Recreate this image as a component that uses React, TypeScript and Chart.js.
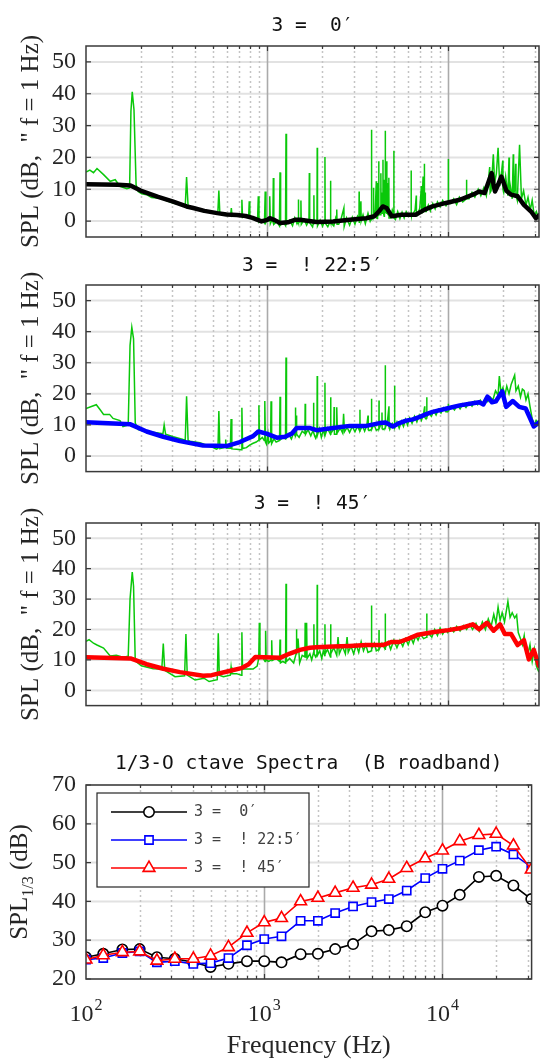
import React, { useEffect, useRef } from 'react';
import { Chart, registerables } from 'chart.js';
import { drawPoint } from 'chart.js/helpers';

Chart.register(...registerables);

const SERIF = '"Liberation Serif", "Times New Roman", serif';
const MONO = '"DejaVu Sans Mono", monospace';
const INK = '#262626';
const GREEN = 'rgb(10,200,10)';

type Pt = [number, number];

// ---- frequency axis ----
const freqMin = 100;
const freqMax = 31623;
const minorFreqs = [200, 300, 400, 500, 600, 700, 800, 900, 2000, 3000, 4000, 5000, 6000, 7000, 8000, 9000, 20000, 30000];
const decadeFreqs = [1000, 10000];
const decadeLabels = [100, 1000, 10000];

// ---- level ticks ----
const spectrumTicks = [0, 10, 20, 30, 40, 50];
const bandTicks = [20, 30, 40, 50, 60, 70];

// ---- titles / labels ----
const titles = ['3 =  0\u2032', '3 =  ! 22:5\u2032', '3 =  ! 45\u2032', '1/3-O ctave Spectra  (B roadband)'];
const spectrumLabel = 'SPL (dB,  " f = 1 Hz)';
const bandLabelMain = 'SPL';
const bandLabelSub = '1/3';
const bandLabelTail = ' (dB)';
const freqLabel = 'Frequency (Hz)';

// ---- narrowband spectrum, 0 deg ----
const narrow0: Pt[] = [
  [100, 15.4], [105, 16.0], [110, 15.2], [115, 16.5], [125, 14.6], [136, 12.5], [145, 13.0], [154, 10.9], [168, 10.2],
  [174, 10.4], [177, 34.5], [180, 40.6], [184, 35.0], [189, 11.4], [194, 9.3], [203, 8.6], [216, 8.3], [230, 7.4],
  [256, 7.2], [279, 6.4], [303, 5.7], [330, 5.1], [353, 4.8], [359, 13.8], [366, 4.6], [391, 4.1], [443, 3.0],
  [494, 2.8], [534, 2.6], [541, 9.6], [548, 2.2], [596, 2.2], [629, 2.0], [634, 4.1], [640, 1.5], [677, 1.8],
  [719, 1.7], [725, 6.7], [731, 1.2], [756, 1.8], [790, 1.6], [796, 6.2], [802, 1.0], [835, 1.2], [868, 0.2],
  [885, 0.6], [893, 7.8], [901, -0.3], [935, 0.5], [966, -0.6], [975, 9.3], [984, -0.4], [1010, 0.8], [1025, 0.0],
  [1033, 7.8], [1041, -0.8], [1065, 0.5], [1075, -0.2], [1081, 13.5], [1088, -1.0], [1130, -0.2], [1168, -1.5],
  [1177, 15.3], [1186, -1.2], [1230, -0.3], [1262, -1.4], [1270, 27.4], [1278, -1.0], [1330, 0.2], [1380, -1.5],
  [1420, 1.0], [1460, -0.8], [1480, 0.0], [1485, 6.8], [1492, -0.5], [1530, 0.0], [1535, 6.5], [1542, -1.0],
  [1600, 0.5], [1650, -1.3], [1700, 0.2], [1708, 15.1], [1716, -0.5], [1780, -1.8], [1805, 0.0], [1810, 8.1],
  [1816, -0.8], [1882, 0.0], [1888, 23.0], [1895, -1.5], [1960, 0.3], [2020, -1.6], [2076, 0.0], [2083, 20.1],
  [2090, -0.6], [2160, -1.8], [2230, 0.0], [2236, 12.7], [2243, -0.4], [2330, -1.5], [2400, 1.5], [2420, 3.6],
  [2430, -1.0], [2480, -1.0], [2560, 0.8], [2650, 4.1], [2660, -1.7], [2740, 1.0], [2850, -1.3], [2950, 1.2],
  [3050, -1.0], [3150, 1.5], [3210, 0.5], [3216, 9.3], [3222, -0.6], [3290, 6.2], [3300, 0.0], [3380, 2.0],
  [3480, -0.8], [3600, 2.5], [3700, 0.0], [3758, 1.0], [3765, 28.7], [3772, 0.5], [3855, 1.0], [3862, 10.5],
  [3870, 1.5], [3950, 3.5], [4000, 12.5], [4010, 1.0], [4050, 0.8], [4060, 12.0], [4070, 1.5], [4120, 2.0],
  [4127, 18.8], [4134, 2.0], [4200, 2.0], [4240, 15.0], [4250, 2.5], [4290, 9.0], [4300, 3.0], [4348, 2.5],
  [4355, 19.3], [4362, 3.0], [4420, 1.5], [4430, 13.0], [4440, 2.0], [4477, 3.5], [4484, 28.4], [4491, 3.0],
  [4560, 2.5], [4570, 18.8], [4580, 3.0], [4600, 10.0], [4620, 2.0], [4640, 12.0], [4660, 2.0], [4688, 2.0],
  [4695, 13.6], [4702, 1.0], [4800, 1.0], [4900, 3.5], [4993, 2.0], [5000, 22.1], [5007, 1.0], [5100, 0.5],
  [5250, 3.0], [5400, 0.8], [5550, 2.8], [5700, 1.0], [5850, 3.0], [6050, 1.5], [6222, 2.0], [6230, 15.9],
  [6238, 1.8], [6350, 2.0], [6550, 3.5], [6650, 8.0], [6660, 2.0], [6750, 1.8], [6950, 4.0], [7100, 11.0],
  [7110, 2.5], [7150, 2.5], [7250, 14.0], [7260, 3.0], [7362, 3.5], [7370, 18.0], [7378, 3.0], [7450, 9.0],
  [7460, 3.0], [7550, 3.0], [7750, 5.0], [7950, 3.2], [8200, 5.5], [8450, 3.8], [8700, 6.0], [9000, 4.5],
  [9300, 6.5], [9700, 4.8], [9990, 6.0], [9997, 19.5], [10005, 5.5], [10300, 5.5], [10700, 7.0], [11100, 5.2],
  [11500, 7.5], [12000, 6.0], [12590, 7.0], [12600, 13.0], [12610, 7.0], [13000, 7.0], [13500, 9.0], [14000, 7.5],
  [14600, 10.0], [15100, 8.0], [15700, 10.5], [16200, 8.0], [16700, 14.0], [16900, 17.0], [17000, 9.0],
  [17200, 9.5], [17700, 21.0], [18000, 12.0], [18400, 15.0], [18800, 23.0], [19200, 11.0], [19700, 16.0],
  [19950, 19.0], [20000, 10.0], [20200, 9.0], [20700, 14.0], [21300, 8.0], [21600, 20.0], [21700, 9.0],
  [21900, 11.5], [22500, 7.0], [22800, 21.0], [22900, 8.0], [23200, 10.0], [23500, 18.0], [23600, 8.0],
  [24000, 6.5], [24700, 24.0], [25300, 7.0], [26000, 9.5], [26800, 5.0], [27500, 7.5], [28300, 3.5], [29000, 6.5],
  [29800, 1.5], [30600, 3.0], [31600, 0.5],
];

const smooth0: Pt[] = [
  [100, 11.6], [150, 11.4], [176, 11.2], [200, 9.6], [250, 7.6], [300, 6.2], [359, 4.6], [391, 4.1], [450, 3.2],
  [530, 2.5], [596, 2.1], [680, 1.9], [760, 1.6], [830, 1.0], [930, -0.1], [1000, 0.4], [1033, 0.9], [1100, 0.3],
  [1177, -0.6], [1300, -0.4], [1420, 0.4], [1517, 0.4], [1700, 0.0], [1872, -0.3], [2311, -0.1], [2853, 0.4],
  [3521, 0.9], [3900, 1.5], [4130, 3.0], [4347, 4.6], [4560, 4.1], [4750, 2.5], [4870, 1.5], [5500, 2.0],
  [6600, 2.0], [7400, 3.6], [8176, 4.6], [9700, 5.7], [11560, 6.7], [13640, 8.3], [14800, 9.3], [15840, 8.8],
  [16700, 12.5], [17330, 15.1], [17800, 11.0], [18080, 9.3], [18800, 11.4], [19600, 14.0], [20900, 9.5],
  [22200, 8.3], [24100, 7.8], [26100, 5.1], [28600, 3.0], [30400, 0.9], [31600, 1.8],
];

// ---- narrowband spectrum, -22.5 deg ----
const narrow225: Pt[] = [
  [100, 15.3], [108, 16.0], [114, 16.5], [120, 14.8], [125, 13.4], [135, 13.4], [141, 12.1], [154, 11.4], [160, 9.5],
  [171, 10.0], [175, 35.6], [179, 41.4], [183, 37.7], [187, 10.6], [194, 8.5], [216, 7.9], [240, 7.6], [266, 7.2],
  [270, 10.0], [275, 7.0], [303, 6.2], [344, 5.3], [353, 5.2], [359, 19.2], [366, 5.0], [375, 4.8], [425, 4.3],
  [483, 3.2], [525, 2.2], [535, 2.5], [541, 14.5], [548, 2.4], [573, 2.7], [586, 2.8], [590, 5.3], [595, 2.6],
  [626, 2.5], [632, 11.9], [638, 2.3], [677, 2.2], [718, 2.0], [725, 15.5], [732, 2.4], [768, 2.7], [800, 3.5],
  [836, 4.1], [870, 4.5], [893, 5.0], [900, 16.3], [907, 5.2], [940, 6.0], [963, 5.0], [970, 17.7], [978, 4.5],
  [991, 3.8], [1010, 7.0], [1020, 4.2], [1044, 4.8], [1050, 17.6], [1058, 4.0], [1090, 5.5], [1120, 4.5],
  [1170, 5.0], [1177, 19.1], [1185, 5.3], [1220, 6.0], [1262, 5.5], [1270, 31.7], [1278, 5.8], [1320, 6.8],
  [1360, 5.5], [1400, 7.5], [1425, 6.5], [1430, 15.6], [1438, 6.5], [1446, 7.0], [1450, 13.0], [1456, 7.0],
  [1500, 6.0], [1560, 8.0], [1615, 7.2], [1620, 16.8], [1628, 7.0], [1680, 8.5], [1740, 6.5], [1790, 8.2],
  [1800, 17.1], [1810, 7.5], [1850, 5.8], [1882, 7.0], [1888, 25.7], [1895, 6.8], [1940, 8.8], [1990, 6.0],
  [2040, 8.5], [2077, 6.5], [2083, 23.6], [2090, 6.8], [2150, 9.0], [2234, 7.0], [2240, 18.9], [2246, 7.2],
  [2330, 8.8], [2340, 15.8], [2350, 7.0], [2400, 7.0], [2420, 15.7], [2440, 7.5], [2530, 9.0], [2610, 7.4],
  [2640, 13.6], [2670, 7.8], [2760, 9.2], [2850, 7.6], [2950, 9.5], [3050, 7.8], [3150, 9.6], [3244, 8.0],
  [3250, 14.9], [3256, 8.2], [3350, 9.8], [3450, 8.0], [3550, 10.0], [3600, 13.0], [3610, 8.5], [3650, 8.2],
  [3758, 8.5], [3765, 18.4], [3772, 8.6], [3880, 10.2], [4000, 8.3], [4133, 8.7], [4140, 17.9], [4147, 8.8],
  [4260, 10.5], [4300, 14.0], [4310, 8.8], [4360, 8.5], [4477, 9.0], [4484, 29.2], [4491, 9.2], [4600, 10.8],
  [4700, 16.0], [4710, 9.0], [4750, 8.8], [4900, 10.5], [5043, 9.0], [5050, 22.6], [5057, 9.2], [5200, 11.0],
  [5350, 9.0], [5500, 11.2], [5650, 9.5], [5800, 11.8], [5950, 10.0], [6100, 12.2], [6300, 10.5], [6500, 12.8],
  [6700, 11.0], [6900, 13.2], [7100, 11.5], [7300, 13.8], [7400, 16.0], [7410, 12.5], [7500, 12.0], [7593, 12.2],
  [7600, 18.9], [7607, 12.5], [7800, 14.0], [8050, 12.8], [8300, 14.5], [8550, 13.2], [8800, 15.0], [9100, 13.8],
  [9400, 15.5], [9700, 14.2], [9990, 14.5], [9997, 16.8], [10004, 14.6], [10400, 16.0], [10800, 14.8],
  [11200, 16.3], [11600, 15.2], [12000, 16.8], [12500, 15.6], [13000, 17.2], [13500, 16.0], [14000, 17.6],
  [14500, 16.5], [15000, 18.0], [15500, 16.8], [16000, 18.5], [16500, 17.5], [17000, 19.0], [17600, 18.0],
  [18200, 21.0], [18800, 19.5], [19100, 25.7], [19500, 20.5], [20000, 22.0], [20500, 19.5], [21000, 22.5],
  [21600, 20.0], [22200, 23.0], [23210, 26.0], [23600, 21.0], [24300, 22.5], [25000, 19.0], [25600, 21.5],
  [26200, 21.0], [26800, 18.0], [27500, 20.0], [28200, 16.0], [29000, 12.0], [29800, 10.0], [30500, 11.5],
  [31600, 10.5],
];

const smooth225: Pt[] = [
  [100, 10.9], [176, 10.2], [216, 7.9], [267, 6.2], [330, 4.8], [443, 3.4], [596, 3.2], [707, 4.5], [836, 6.4],
  [893, 7.9], [991, 7.2], [1130, 5.9], [1254, 6.2], [1365, 7.2], [1453, 9.0], [1723, 9.0], [1872, 8.3],
  [2311, 9.0], [2853, 9.7], [3521, 9.7], [4170, 10.6], [4500, 10.8], [4935, 9.5], [5365, 10.6], [5840, 11.4],
  [6360, 11.8], [6950, 12.6], [7550, 13.5], [8176, 14.2], [9800, 15.3], [11560, 16.3], [13640, 17.0],
  [14800, 17.3], [15600, 16.6], [16440, 19.1], [17400, 17.3], [18300, 17.6], [19800, 20.8], [20850, 15.8],
  [22650, 17.7], [24600, 15.8], [26700, 15.3], [29600, 9.5], [31600, 10.8],
];

// ---- narrowband spectrum, -45 deg ----
const narrow45: Pt[] = [
  [100, 16.1], [104, 16.7], [110, 15.5], [115, 14.9], [125, 13.9], [136, 11.3], [147, 11.5], [160, 10.9],
  [171, 11.2], [175, 30.0], [180, 38.9], [183, 34.2], [187, 9.7], [202, 8.1], [235, 7.1], [262, 7.0], [267, 15.4],
  [272, 6.6], [310, 4.5], [350, 4.8], [356, 18.5], [362, 5.0], [400, 3.4], [448, 4.0], [478, 2.9], [530, 3.5],
  [537, 18.8], [544, 5.0], [573, 4.5], [626, 5.0], [632, 7.6], [638, 5.5], [677, 5.5], [719, 5.0], [725, 19.1],
  [731, 7.0], [768, 7.0], [836, 7.0], [880, 8.0], [898, 10.5], [905, 22.2], [912, 11.0], [940, 11.0], [973, 9.5],
  [980, 19.6], [987, 10.0], [1020, 9.5], [1052, 10.0], [1059, 16.5], [1066, 9.8], [1120, 10.5], [1170, 9.5],
  [1177, 16.7], [1184, 9.0], [1220, 9.5], [1263, 9.0], [1270, 35.0], [1277, 9.5], [1330, 10.5], [1400, 9.0],
  [1444, 12.0], [1450, 20.1], [1456, 12.5], [1480, 17.0], [1510, 9.0], [1560, 11.5], [1614, 11.0], [1620, 22.2],
  [1626, 12.0], [1644, 11.0], [1650, 22.2], [1660, 10.5], [1720, 12.0], [1760, 10.0], [1804, 12.5], [1810, 21.7],
  [1816, 12.0], [1850, 11.0], [1882, 12.0], [1888, 34.7], [1894, 11.5], [1950, 13.0], [2000, 10.5], [2040, 13.0],
  [2077, 11.5], [2083, 21.7], [2089, 12.0], [2150, 13.5], [2234, 11.0], [2240, 21.7], [2246, 12.0], [2330, 14.0],
  [2420, 11.5], [2460, 17.5], [2500, 12.0], [2600, 14.5], [2700, 12.0], [2760, 17.5], [2800, 12.5], [2900, 14.5],
  [3000, 12.0], [3100, 15.0], [3200, 12.5], [3300, 16.0], [3400, 13.0], [3500, 15.0], [3600, 12.5], [3758, 13.0],
  [3765, 27.9], [3772, 13.5], [3900, 15.5], [4000, 13.0], [4134, 13.5], [4140, 19.8], [4146, 13.5], [4300, 15.5],
  [4477, 13.5], [4484, 25.3], [4491, 14.0], [4650, 16.0], [4800, 13.5], [5000, 16.5], [5200, 14.0], [5400, 16.5],
  [5600, 14.5], [5800, 17.0], [6000, 15.0], [6200, 17.5], [6400, 15.5], [6600, 18.0], [6800, 16.5], [7000, 18.5],
  [7300, 17.0], [7593, 17.5], [7600, 25.3], [7607, 18.0], [7800, 18.5], [8100, 17.5], [8400, 20.0], [8700, 18.0],
  [9000, 20.5], [9300, 18.5], [9600, 20.0], [9900, 19.0], [10300, 20.5], [10700, 19.2], [11100, 21.0],
  [11600, 19.5], [12100, 21.3], [12600, 20.0], [13100, 21.8], [13600, 20.0], [14200, 22.0], [14800, 19.5],
  [15400, 22.5], [16000, 20.0], [16600, 23.5], [17200, 21.0], [17800, 25.0], [18300, 22.0], [18800, 27.4],
  [19300, 23.0], [19800, 25.5], [20400, 22.5], [21300, 29.2], [21900, 24.0], [22500, 25.5], [23210, 23.8],
  [23800, 24.8], [24300, 19.0], [25000, 17.0], [25600, 15.0], [26200, 18.0], [26800, 13.0], [27500, 12.0],
  [28200, 15.0], [29000, 9.5], [29800, 13.5], [30600, 8.0], [31600, 6.0],
];

const smooth45: Pt[] = [
  [100, 10.9], [176, 10.5], [216, 8.6], [267, 7.1], [330, 6.0], [443, 4.8], [494, 5.0], [610, 6.3], [720, 7.3],
  [790, 8.6], [860, 11.0], [960, 10.9], [1177, 10.7], [1334, 12.1], [1517, 13.3], [1723, 14.0], [1872, 14.2],
  [2311, 14.4], [2853, 14.6], [3521, 14.9], [4347, 14.9], [4870, 15.9], [5365, 15.9], [6030, 17.0], [6800, 18.3],
  [8176, 19.1], [9997, 19.8], [11560, 20.4], [13640, 21.7], [14780, 20.1], [16320, 22.2], [17770, 19.6],
  [19260, 21.7], [20480, 18.5], [22200, 18.5], [24100, 14.9], [26100, 16.5], [27800, 10.2], [29600, 13.3],
  [31600, 8.1],
];

// ---- 1/3-octave band levels ----
const bandCenters = [100, 125, 160, 200, 250, 315, 400, 500, 630, 800, 1000, 1250, 1600, 2000, 2500, 3150, 4000, 5000, 6300, 8000, 10000, 12500, 16000, 20000, 25000, 31500];
const band0 = [25.6, 26.5, 27.6, 27.7, 25.6, 25.2, 24.3, 23.1, 23.9, 24.6, 24.6, 24.3, 26.4, 26.5, 27.7, 29.0, 32.3, 32.6, 33.6, 37.2, 38.9, 41.7, 46.3, 46.6, 44.1, 40.6];
const band225 = [25.0, 25.4, 26.7, 27.1, 24.3, 24.6, 23.9, 24.1, 25.4, 28.7, 30.3, 31.0, 35.0, 35.0, 37.0, 38.7, 39.8, 40.6, 42.8, 46.0, 48.4, 50.5, 53.2, 54.1, 52.1, 48.9];
const band45 = [25.0, 26.1, 26.9, 27.1, 24.7, 25.2, 25.2, 26.0, 28.2, 31.9, 34.6, 35.7, 40.0, 40.9, 42.2, 43.5, 44.3, 45.8, 48.6, 51.1, 53.1, 55.5, 57.1, 57.4, 54.4, 48.2];

// ---- page geometry (absolute pixels) ----
interface Box { top: number; height: number; plotTop: number; plotBottom: number; titleY: number; }
const boxes: Box[] = [
  { top: 0, height: 262, plotTop: 46, plotBottom: 237, titleY: 26 },
  { top: 250, height: 246, plotTop: 285, plotBottom: 476, titleY: 266 },
  { top: 490, height: 240, plotTop: 523, plotBottom: 715, titleY: 504 },
  { top: 740, height: 319, plotTop: 785, plotBottom: 979, titleY: 764 },
];
const PLOT_LEFT = 86;
const PLOT_RIGHT = 539;

const toXY = (pts: Pt[]) => pts.map(([x, y]) => ({ x, y }));

// MATLAB-like box: grid beneath the data, frame + inward ticks + annotations on top
const matlabFrame = {
  id: 'matlabFrame',
  beforeDatasetsDraw(chart: any, _args: any, opts: any) {
    const { ctx, chartArea: a } = chart;
    const xs = chart.scales.x;
    const ys = chart.scales.y;
    ctx.save();
    ctx.strokeStyle = 'rgb(226,226,226)';
    ctx.lineWidth = 2;
    for (const v of opts.yTicks) {
      const p = ys.getPixelForValue(v);
      ctx.beginPath(); ctx.moveTo(a.left, p); ctx.lineTo(a.right, p); ctx.stroke();
    }
    ctx.setLineDash([2, 3]);
    ctx.strokeStyle = 'rgb(196,196,196)';
    ctx.lineWidth = 1.5;
    for (const v of minorFreqs) {
      const p = Math.round(xs.getPixelForValue(v)) + 0.5;
      ctx.beginPath(); ctx.moveTo(p, a.top); ctx.lineTo(p, a.bottom); ctx.stroke();
    }
    ctx.setLineDash([]);
    ctx.strokeStyle = 'rgb(170,170,170)';
    ctx.lineWidth = 1.6;
    for (const v of decadeFreqs) {
      const p = Math.round(xs.getPixelForValue(v)) + 0.5;
      ctx.beginPath(); ctx.moveTo(p, a.top); ctx.lineTo(p, a.bottom); ctx.stroke();
    }
    ctx.restore();
  },
  afterDatasetsDraw(chart: any, _args: any, opts: any) {
    const { ctx, chartArea: a } = chart;
    const xs = chart.scales.x;
    const ys = chart.scales.y;
    ctx.save();
    ctx.strokeStyle = '#3a3a3a';
    ctx.lineWidth = 1.5;
    ctx.strokeRect(a.left, a.top, a.right - a.left, a.bottom - a.top);
    ctx.lineWidth = 1.2;
    for (const v of opts.yTicks) {
      const p = ys.getPixelForValue(v);
      ctx.beginPath();
      ctx.moveTo(a.left, p); ctx.lineTo(a.left + 5, p);
      ctx.moveTo(a.right, p); ctx.lineTo(a.right - 5, p);
      ctx.stroke();
    }
    const xt = [...minorFreqs.map((v) => [v, 3]), ...decadeFreqs.map((v) => [v, 5])];
    for (const [v, len] of xt) {
      const p = Math.round(xs.getPixelForValue(v)) + 0.5;
      ctx.beginPath();
      ctx.moveTo(p, a.top); ctx.lineTo(p, a.top + len);
      ctx.moveTo(p, a.bottom); ctx.lineTo(p, a.bottom - len);
      ctx.stroke();
    }

    // panel title
    ctx.fillStyle = '#111';
    ctx.font = `19.5px ${MONO}`;
    ctx.textAlign = 'center';
    ctx.textBaseline = 'middle';
    ctx.fillText(opts.title, (a.left + a.right) / 2, opts.titleY);

    // decade labels 10^n
    if (opts.decadeLabels) {
      ctx.fillStyle = INK;
      ctx.textAlign = 'left';
      ctx.textBaseline = 'alphabetic';
      for (const v of decadeLabels) {
        const p = xs.getPixelForValue(v);
        const exp = String(Math.round(Math.log10(v)));
        ctx.font = `24px ${SERIF}`;
        const wb = ctx.measureText('10').width;
        ctx.font = `16px ${SERIF}`;
        const we = ctx.measureText(exp).width;
        const x0 = p - (wb + we + 1) / 2;
        ctx.font = `24px ${SERIF}`;
        ctx.fillText('10', x0, opts.decadeBase);
        ctx.font = `16px ${SERIF}`;
        ctx.fillText(exp, x0 + wb + 1, opts.decadeBase - 11);
      }
    }

    // y label with subscript
    if (opts.subLabel) {
      const cy = (a.top + a.bottom) / 2;
      ctx.translate(opts.subLabel.x, cy);
      ctx.rotate(-Math.PI / 2);
      ctx.fillStyle = INK;
      ctx.textBaseline = 'middle';
      ctx.textAlign = 'left';
      ctx.font = `25px ${SERIF}`;
      const w1 = ctx.measureText(bandLabelMain).width;
      const w3 = ctx.measureText(bandLabelTail).width;
      ctx.font = `16px ${SERIF}`;
      const w2 = ctx.measureText(bandLabelSub).width;
      let x0 = -(w1 + w2 + w3) / 2;
      ctx.font = `25px ${SERIF}`;
      ctx.fillText(bandLabelMain, x0, 0);
      x0 += w1;
      ctx.font = `16px ${SERIF}`;
      ctx.fillText(bandLabelSub, x0, 9);
      x0 += w2;
      ctx.font = `25px ${SERIF}`;
      ctx.fillText(bandLabelTail, x0, 0);
      ctx.setTransform(1, 0, 0, 1, 0, 0);
    }

    // legend box
    if (opts.legend) {
      const L = opts.legend;
      ctx.fillStyle = '#fff';
      ctx.fillRect(L.x, L.y, L.w, L.h);
      ctx.strokeStyle = INK;
      ctx.lineWidth = 1.2;
      ctx.strokeRect(L.x, L.y, L.w, L.h);
      chart.data.datasets.forEach((ds: any, i: number) => {
        const ry = L.rows[i];
        ctx.strokeStyle = ds.borderColor;
        ctx.lineWidth = ds.borderWidth;
        ctx.beginPath(); ctx.moveTo(L.lineX0, ry); ctx.lineTo(L.lineX1, ry); ctx.stroke();
        ctx.fillStyle = '#fff';
        ctx.lineWidth = ds.pointBorderWidth;
        drawPoint(ctx, { pointStyle: ds.pointStyle, radius: ds.pointRadius, rotation: 0, borderWidth: ds.pointBorderWidth }, (L.lineX0 + L.lineX1) / 2, ry);
        ctx.fillStyle = '#404040';
        ctx.font = `15px ${MONO}`;
        ctx.textAlign = 'left';
        ctx.textBaseline = 'middle';
        ctx.fillText(ds.label, L.textX, ry);
      });
    }
    ctx.restore();
  },
};
Chart.register(matlabFrame);

function baseScales(box: Box, yMin: number, yMax: number, yTicks: number[], yTitle: string | null, xTitle: string | null) {
  return {
    x: {
      type: 'logarithmic',
      min: freqMin,
      max: freqMax,
      ticks: { display: false },
      grid: { display: false, drawTicks: false },
      border: { display: false },
      title: xTitle
        ? { display: true, text: xTitle, color: INK, font: { family: SERIF, size: 26, lineHeight: 1 }, padding: { top: 0, bottom: 0 } }
        : { display: false },
      afterFit: (s: any) => { s.height = box.top + box.height - box.plotBottom; },
    },
    y: {
      type: 'linear',
      min: yMin,
      max: yMax,
      afterBuildTicks: (s: any) => { s.ticks = yTicks.map((value) => ({ value })); },
      ticks: { color: INK, font: { family: SERIF, size: 24 }, padding: 10 },
      grid: { display: false, drawTicks: false },
      border: { display: false },
      title: yTitle
        ? { display: true, text: yTitle, color: INK, font: { family: SERIF, size: 25 }, padding: { top: 16, bottom: 0 } }
        : { display: false },
      afterFit: (s: any) => { s.width = PLOT_LEFT; },
    },
  };
}

function spectrumConfig(i: number, narrow: Pt[], smooth: Pt[], color: string): any {
  const box = boxes[i];
  return {
    type: 'line',
    data: {
      datasets: [
        { data: toXY(narrow), borderColor: GREEN, borderWidth: 1.5, pointRadius: 0, order: 2 },
        { data: toXY(smooth), borderColor: color, borderWidth: 4.5, pointRadius: 0, borderJoinStyle: 'round', borderCapStyle: 'round', order: 1 },
      ],
    },
    options: {
      animation: false,
      responsive: false,
      events: [],
      layout: { padding: { top: box.plotTop - box.top, right: 540 - PLOT_RIGHT, left: 0, bottom: 0 } },
      plugins: {
        legend: { display: false },
        tooltip: { enabled: false },
        matlabFrame: { yTicks: spectrumTicks, title: titles[i], titleY: box.titleY - box.top },
      },
      scales: baseScales(box, -5, 55, spectrumTicks, spectrumLabel, null),
    },
  };
}

function bandConfig(): any {
  const box = boxes[3];
  const mk = (label: string, values: number[], color: string, pointStyle: string, radius: number, order: number) => ({
    label,
    data: bandCenters.map((x, k) => ({ x, y: values[k] })),
    borderColor: color,
    borderWidth: 1.6,
    pointStyle,
    pointRadius: radius,
    pointBorderWidth: 1.6,
    pointBorderColor: color,
    pointBackgroundColor: '#fff',
    order,
  });
  return {
    type: 'line',
    data: {
      datasets: [
        mk(titles[0], band0, '#000000', 'circle', 5.2, 3),
        mk(titles[1], band225, '#0000ff', 'rect', 5.8, 2),
        mk(titles[2], band45, '#ff0000', 'triangle', 6.8, 1),
      ],
    },
    options: {
      animation: false,
      responsive: false,
      events: [],
      layout: { padding: { top: box.plotTop - box.top, right: 540 - PLOT_RIGHT, left: 0, bottom: 0 } },
      plugins: {
        legend: { display: false },
        tooltip: { enabled: false },
        matlabFrame: {
          yTicks: bandTicks,
          title: titles[3],
          titleY: box.titleY - box.top,
          decadeLabels: true,
          decadeBase: 1021 - box.top,
          subLabel: { x: 20 },
          legend: {
            x: 97, y: 793 - box.top, w: 212, h: 94,
            rows: [812 - box.top, 840 - box.top, 868 - box.top],
            lineX0: 111, lineX1: 187, textX: 194,
          },
        },
      },
      scales: baseScales(box, 20, 70, bandTicks, null, freqLabel),
    },
  };
}

function ChartCanvas({ box, build }: { box: Box; build: () => any }) {
  const ref = useRef<HTMLCanvasElement>(null);
  useEffect(() => {
    const chart = new Chart(ref.current as HTMLCanvasElement, build());
    return () => chart.destroy();
  }, []);
  return (
    <canvas
      ref={ref}
      width={540}
      height={box.height}
      style={{ position: 'absolute', left: 0, top: box.top, width: 540, height: box.height }}
    />
  );
}

export default function App() {
  return (
    <div style={{ position: 'absolute', left: 0, top: 0, width: 540, height: 1059, background: '#fff', overflow: 'hidden' }}>
      <ChartCanvas box={boxes[0]} build={() => spectrumConfig(0, narrow0, smooth0, '#000000')} />
      <ChartCanvas box={boxes[1]} build={() => spectrumConfig(1, narrow225, smooth225, '#0000ff')} />
      <ChartCanvas box={boxes[2]} build={() => spectrumConfig(2, narrow45, smooth45, '#ff0000')} />
      <ChartCanvas box={boxes[3]} build={bandConfig} />
    </div>
  );
}
